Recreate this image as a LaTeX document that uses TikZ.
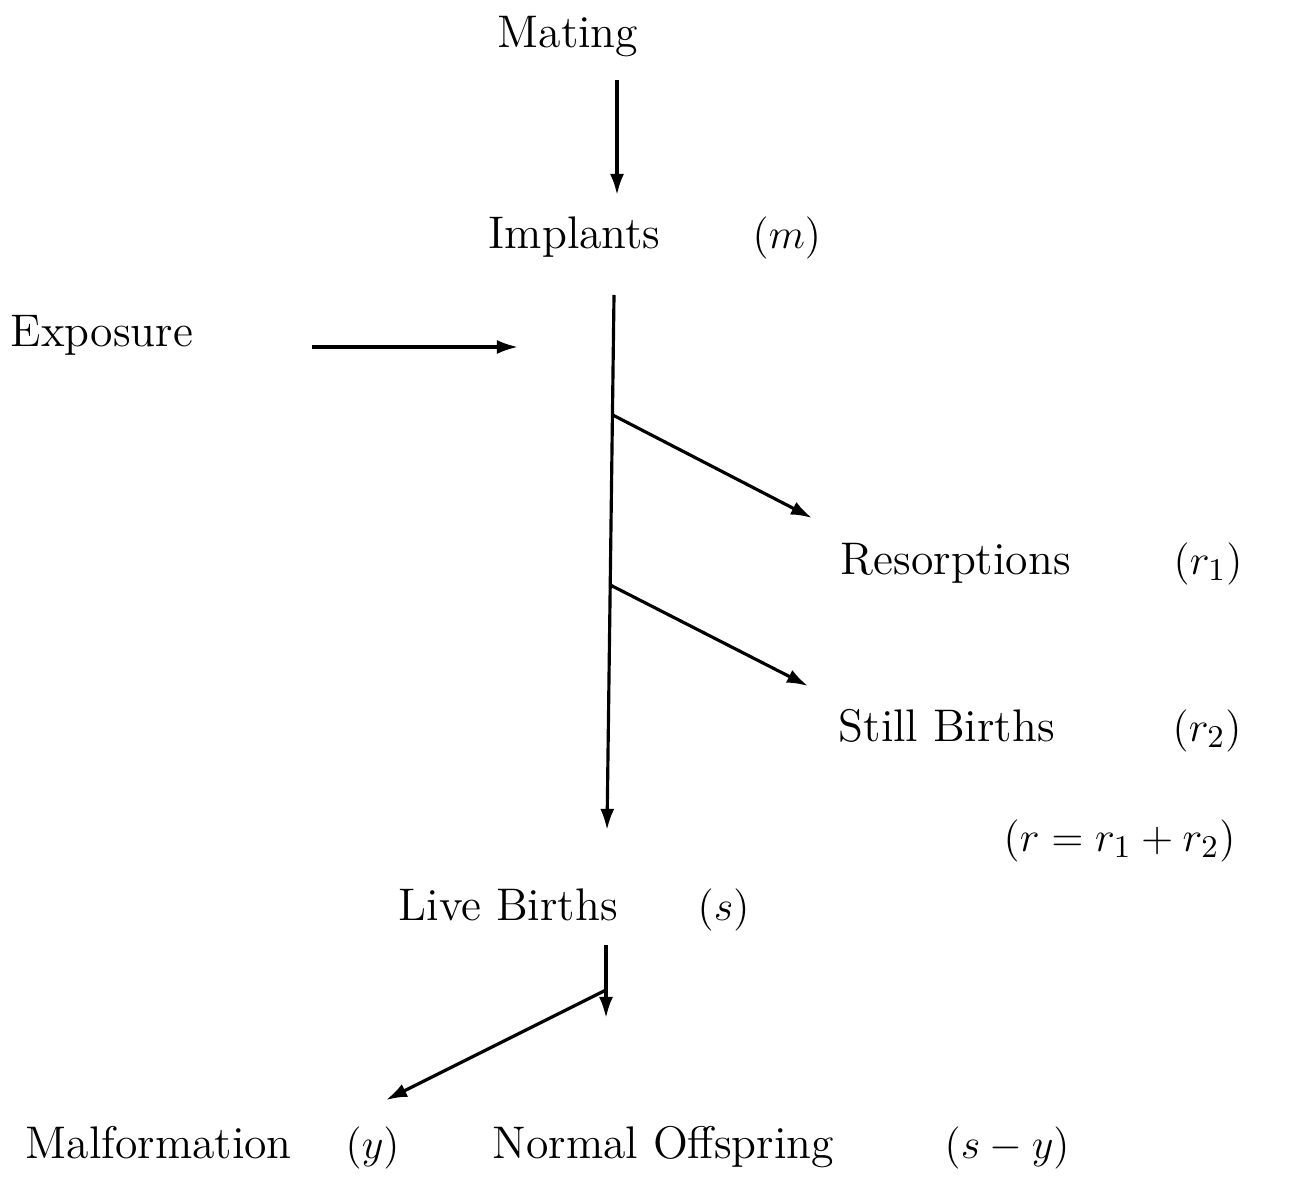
\documentclass[tikz,border=0pt]{standalone}
\usepackage{amsmath, tikz, xcolor}
\usetikzlibrary{arrows.meta, calc}

\tikzset{
    lbl/.style={inner sep=0pt, anchor=base west, font=\fontsize{13}{15}\selectfont},
    arr/.style={-{Latex[length=6pt, width=4pt]}, line width=0.9pt},
}

\begin{document}
\begin{tikzpicture}[x=0.01cm, y=-0.01cm]
    \useasboundingbox (0,0) rectangle (1307,1204);

    \node [lbl] (mating) at (497,48) {Mating};
    \node [lbl] (implants) at (488,249) {Implants};
    \node [lbl] (m) at (752,249) {$(m)$};
    \node [lbl] (exposure) at (10,347) {Exposure};
    \node [lbl] (resorp) at (840,574) {Resorptions};
    \node [lbl] (r1) at (1173,574) {$(r_1)$};
    \node [lbl] (still) at (838,741) {Still Births};
    \node [lbl] (r2) at (1172,741) {$(r_2)$};
    \node [lbl] (rsum) at (1003,851) {$(r = r_1 + r_2)$};
    \node [lbl] (live) at (398,920) {Live Births};
    \node [lbl] (s) at (697,920) {$(s)$};
    \node [lbl] (malf) at (25,1158) {Malformation};
    \node [lbl] (y) at (345,1158) {$(y)$};
    \node [lbl] (normal) at (492,1158) {Normal Offspring};
    \node [lbl] (sy) at (944,1158) {$(s - y)$};

    \coordinate (matingend) at (617,80);
    \coordinate (implantstop) at (617,195);
    \coordinate (expostart) at (312,347);
    \coordinate (expoend) at (518,347);
    \coordinate (maintop) at (614,295);
    \coordinate (mainbot) at (607,830);
    \coordinate (split1) at ($(maintop)!0.224!(mainbot)$);
    \coordinate (split2) at ($(maintop)!0.542!(mainbot)$);
    \coordinate (resend) at (812,518);
    \coordinate (stillend) at (808,686);
    \coordinate (livetop) at (606,945);
    \coordinate (livebot) at (606,1018);
    \coordinate (split3) at (606,990);
    \coordinate (malfend) at (386,1100);

    \draw [arr] (matingend) -- (implantstop);
    \draw [arr] (expostart) -- (expoend);
    \draw [arr] (maintop) -- (mainbot);
    \draw [arr] (split1) -- (resend);
    \draw [arr] (split2) -- (stillend);
    \draw [arr] (livetop) -- (livebot);
    \draw [arr] (split3) -- (malfend);
\end{tikzpicture}
\end{document}
